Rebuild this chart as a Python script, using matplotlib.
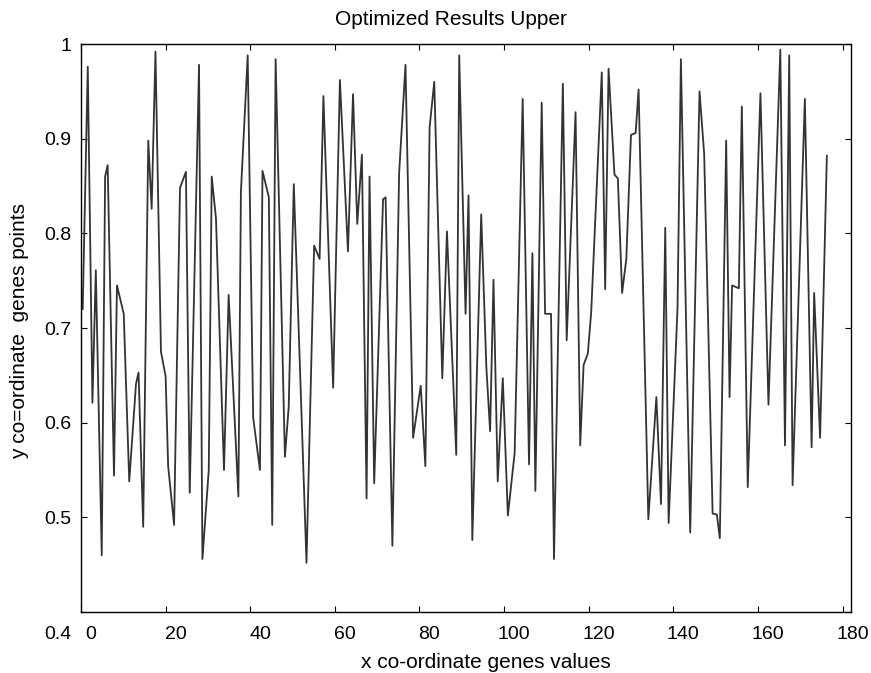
import matplotlib
matplotlib.use("Agg")
import matplotlib.pyplot as plt
from matplotlib.transforms import ScaledTranslation

plt.rcParams['font.family'] = ['Liberation Sans', 'DejaVu Sans']

# vertices of the trace (x position, value)
gene_x = [0.4, 1.6, 2.7, 3.5, 4.9, 5.7, 6.3, 7.8, 8.5, 10.1, 11.4, 13.0, 13.6, 14.7, 15.9, 16.7, 17.6, 18.9,
          20.0, 20.6, 22.0, 23.4, 24.8, 25.7, 27.9, 28.7, 30.2, 30.9, 31.9, 33.8, 34.9, 37.2, 37.8, 39.4,
          40.7, 42.3, 42.9, 44.4, 45.2, 46.0, 48.2, 49.1, 50.3, 53.3, 55.1, 56.4, 57.3, 59.6, 61.2, 63.1,
          64.3, 65.3, 66.4, 67.5, 68.2, 69.3, 71.4, 72.0, 73.6, 75.2, 76.7, 78.5, 80.3, 81.4, 82.4, 83.5,
          85.4, 86.5, 88.7, 89.4, 90.9, 91.6, 92.5, 94.6, 95.8, 96.7, 97.5, 98.5, 99.7, 100.9, 102.5,
          104.4, 105.9, 106.7, 107.4, 108.9, 109.7, 111.1, 111.8, 113.9, 114.8, 116.9, 118.0, 118.8,
          119.8, 120.6, 123.1, 123.9, 124.7, 126.1, 126.9, 127.9, 128.9, 130.0, 131.1, 131.8, 134.1,
          136.0, 137.1, 138.1, 138.9, 141.0, 141.8, 144.0, 146.2, 147.3, 149.3, 150.3, 151.0, 152.5,
          153.3, 153.9, 155.5, 156.2, 157.6, 160.6, 162.5, 165.3, 166.4, 167.4, 168.2, 171.1, 172.7,
          173.3, 174.7, 176.3]
gene_y = [0.72, 0.976, 0.621, 0.761, 0.460, 0.860, 0.872, 0.544, 0.745, 0.715, 0.538, 0.641, 0.653, 0.490,
          0.898, 0.826, 0.992, 0.675, 0.649, 0.554, 0.492, 0.848, 0.865, 0.526, 0.978, 0.456, 0.550,
          0.860, 0.816, 0.550, 0.735, 0.522, 0.844, 0.988, 0.605, 0.550, 0.866, 0.838, 0.492, 0.984,
          0.564, 0.617, 0.852, 0.452, 0.787, 0.773, 0.945, 0.637, 0.962, 0.781, 0.947, 0.810, 0.883,
          0.520, 0.860, 0.536, 0.836, 0.838, 0.470, 0.864, 0.978, 0.584, 0.639, 0.554, 0.912, 0.960,
          0.647, 0.802, 0.566, 0.988, 0.715, 0.840, 0.476, 0.820, 0.660, 0.591, 0.751, 0.538, 0.647,
          0.502, 0.568, 0.942, 0.556, 0.779, 0.528, 0.938, 0.715, 0.715, 0.456, 0.958, 0.687, 0.928,
          0.576, 0.661, 0.673, 0.717, 0.970, 0.741, 0.974, 0.862, 0.858, 0.737, 0.773, 0.904, 0.906,
          0.952, 0.498, 0.627, 0.514, 0.806, 0.494, 0.721, 0.984, 0.484, 0.950, 0.884, 0.504, 0.503,
          0.478, 0.898, 0.627, 0.745, 0.742, 0.934, 0.532, 0.948, 0.619, 0.994, 0.576, 0.988, 0.534,
          0.942, 0.574, 0.737, 0.584, 0.882]

xticks = [0, 20, 40, 60, 80, 100, 120, 140, 160, 180]
yticks = [0.4, 0.5, 0.6, 0.7, 0.8, 0.9, 1.0]
ytick_labels = ['0.4', '0.5', '0.6', '0.7', '0.8', '0.9', '1']

fig = plt.figure(figsize=(8.71, 6.73), dpi=100)
ax = fig.add_axes([0.093, 0.0906, 0.884, 0.844])

ax.plot(gene_x, gene_y, color='#333333', linewidth=1.3)

ax.set_xlim(0, 182)
ax.set_ylim(0.4, 1.0)
ax.set_xticks(xticks)
ax.set_xticklabels([str(t) for t in xticks])
ax.set_yticks(yticks)
ax.set_yticklabels(ytick_labels)
ax.tick_params(direction='in', top=True, right=True, length=4, labelsize=14, pad=7)

# labels in the original sit a little right of their ticks
for lab in ax.get_xticklabels():
    lab.set_transform(lab.get_transform() + ScaledTranslation(10 / 100, -4 / 100, fig.dpi_scale_trans))
ylabs = ax.get_yticklabels()
ylabs[0].set_transform(ylabs[0].get_transform() + ScaledTranslation(0, -20 / 100, fig.dpi_scale_trans))

for s in ax.spines.values():
    s.set_linewidth(1.0)

ax.set_title('Optimized Results Upper', fontsize=15, pad=14, x=0.48)
ax.set_xlabel('x co-ordinate genes values', fontsize=15)
ax.xaxis.set_label_coords(0.526, -0.072)
ax.set_ylabel('y co=ordinate  genes points', fontsize=15)
ax.yaxis.set_label_coords(-0.068, 0.495)

fig.savefig('out.png', dpi=100)
